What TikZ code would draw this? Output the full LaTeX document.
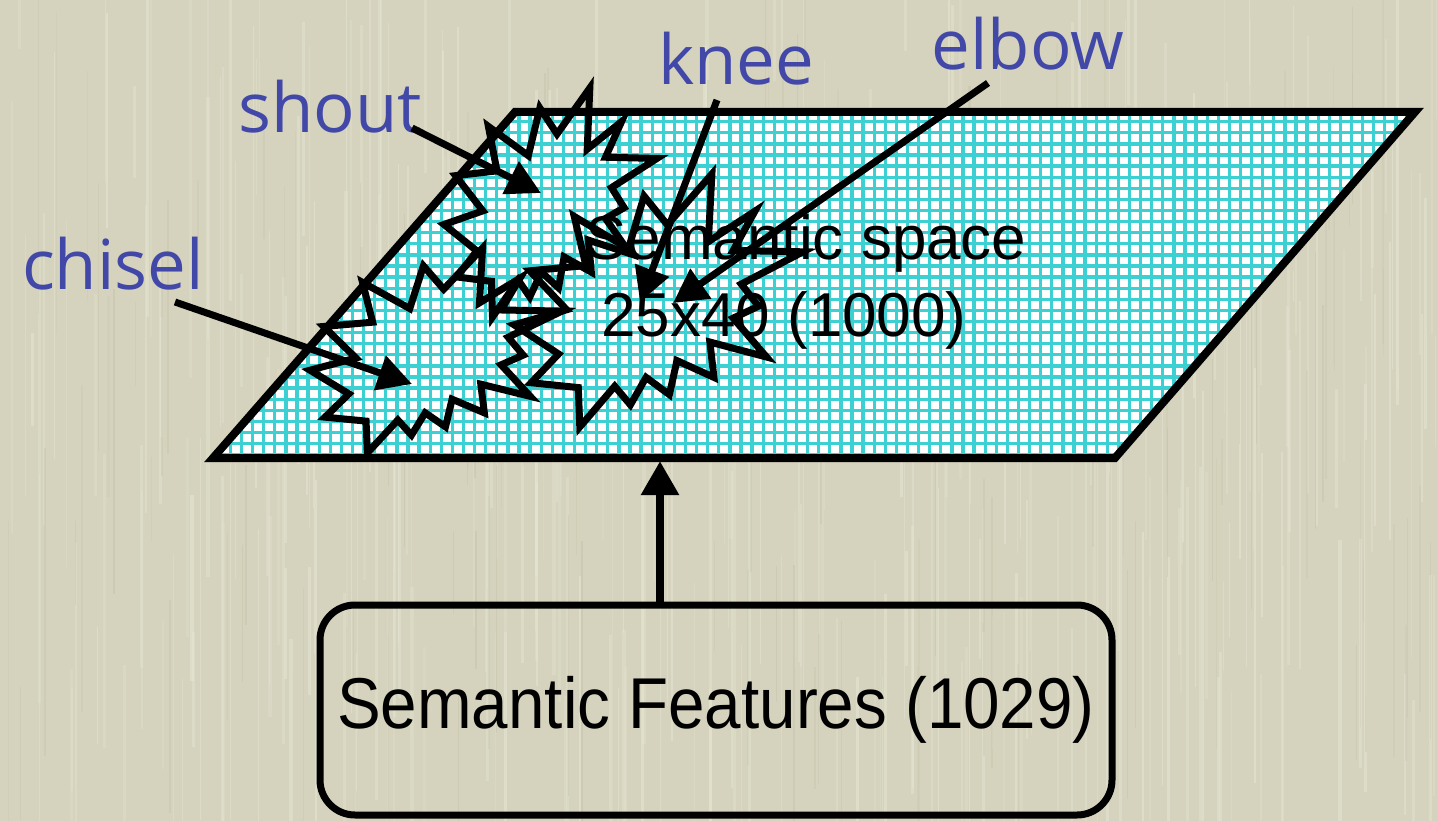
\documentclass[tikz,border=0pt]{standalone}
\usepackage{fontspec}
\setmainfont{Liberation Sans}
\newfontfamily\labelfont{Open Sans}
\usetikzlibrary{arrows.meta}
\definecolor{bgc}{RGB}{213,211,189}
\definecolor{bglight}{RGB}{230,230,212}
\definecolor{bgdark}{RGB}{192,190,165}
\definecolor{gridc}{RGB}{60,208,210}
\definecolor{lblue}{RGB}{66,72,168}
\begin{document}
\begin{tikzpicture}[x=1pt,y=-1pt,
  lbl/.style={font=\labelfont\fontsize{69}{80}\selectfont, text=lblue, inner sep=0pt, anchor=base},
  blk/.style={font=\fontsize{62}{72}\selectfont, inner sep=0pt, anchor=base},
  ptr/.style={line width=7pt, -{Triangle[length=34pt,width=35pt]}},
  uparr/.style={line width=8.5pt, -{Triangle[length=34pt,width=36pt]}},
  burst/.style={line width=7pt, line join=miter},
  gridline/.style={gridc, line width=3.3pt},
  featbox/.style={draw, line width=7pt, rounded corners=35pt, minimum width=792pt,
    minimum height=210pt, inner sep=0pt, font=\fontsize{72}{84}\selectfont}]
\useasboundingbox (0,0) rectangle (1438,821);
% background
\fill[bgc] (0,0) rectangle (1438,821);
\pgfmathsetseed{42}
\foreach \i in {1,...,320}{
  \pgfmathsetmacro\xx{rnd*1438}
  \pgfmathsetmacro\ya{rnd*760-60}
  \pgfmathsetmacro\yl{80+rnd*420}
  \pgfmathsetmacro\ww{0.8+rnd*2.6}
  \pgfmathsetmacro\op{0.2+rnd*0.35}
  \draw[line width=\ww pt, bglight, opacity=\op] (\xx,\ya) -- (\xx,{\ya+\yl});
}
\foreach \i in {1,...,120}{
  \pgfmathsetmacro\xx{rnd*1438}
  \pgfmathsetmacro\ya{rnd*760-60}
  \pgfmathsetmacro\yl{60+rnd*300}
  \pgfmathsetmacro\ww{0.6+rnd*1.6}
  \pgfmathsetmacro\op{0.15+rnd*0.25}
  \draw[line width=\ww pt, bgdark, opacity=\op] (\xx,\ya) -- (\xx,{\ya+\yl});
}
% semantic space plane
\coordinate (P1) at (515,112);
\coordinate (P2) at (1415,112);
\coordinate (P3) at (1115,458);
\coordinate (P4) at (213,458);
\begin{scope}
  \clip (P1) -- (P2) -- (P3) -- (P4) -- cycle;
  \fill[white] (200,100) rectangle (1430,470);
  \foreach \k in {-41,...,70} \draw[gridline] ({663.3+\k*11.1},100) -- ++(0,370);
  \foreach \k in {-1,...,32} \draw[gridline] (200,{121.7+\k*11.1}) -- ++(1230,0);
\end{scope}
\draw[line width=8pt, line join=miter] (P1) -- (P2) -- (P3) -- (P4) -- cycle;
% explosions
\foreach \xo/\yo/\sx/\sy in {310/248/1.1667/0.949, 514/174/1.338/1.171, 444/88/0.986/1.06}{
  \begin{scope}[shift={(\xo,\yo)}, x=\sx pt, y=-\sy pt]
    \draw[burst] (114.62,43.42) -- (147.90,0) -- (145.25,57.77) -- (180.07,31.72)
      -- (163.80,65.32) -- (216.00,66.45) -- (169.85,94.02) -- (182.70,112.90)
      -- (163.80,123.10) -- (188.77,156.32) -- (146.40,143.50) -- (149.42,173.70)
      -- (121.80,159.35) -- (116.12,188.42) -- (98.72,173.70) -- (87.00,197.12)
      -- (75.27,181.25) -- (49.17,216.00) -- (48.05,182.40) -- (12.85,178.25)
      -- (33.30,153.70) -- (0,128.77) -- (39.35,115.92) -- (11.72,82.70)
      -- (53.72,78.17) -- (45.02,36.25) -- (85.50,63.82) -- (97.22,18.87) -- cycle;
  \end{scope}
}
% texts in plane
\node[blk] (sem1) at (806,259) {Semantic space};
\node[blk] (sem2) at (784,336) {25x40 (1000)};
% labels
\node[lbl] (shout) at (330,133) {shout};
\node[lbl] (chisel) at (113,290) {chisel};
\node[lbl] (knee) at (736,85) {knee};
\node[lbl] (elbow) at (1028,70) {elbow};
% label arrows
\coordinate (shoutA) at (412,128);
\coordinate (shoutT) at (541,193);
\coordinate (chiselA) at (175,302);
\coordinate (chiselT) at (412,384);
\coordinate (kneeA) at (717,100);
\coordinate (kneeT) at (640,302);
\coordinate (elbowA) at (988,83);
\coordinate (elbowT) at (673,303);
\draw[ptr] (shoutA) -- (shoutT);
\draw[ptr] (chiselA) -- (chiselT);
\draw[ptr] (kneeA) -- (kneeT);
\draw[ptr] (elbowA) -- (elbowT);
% features box
\node[featbox] (feat) at (716,710) {\raisebox{-6pt}{\scalebox{0.91}[1]{Semantic Features (1029)}}};
\coordinate (pb) at (660,461);
\draw[uparr] (feat.north -| pb) -- (pb);
\end{tikzpicture}
\end{document}
